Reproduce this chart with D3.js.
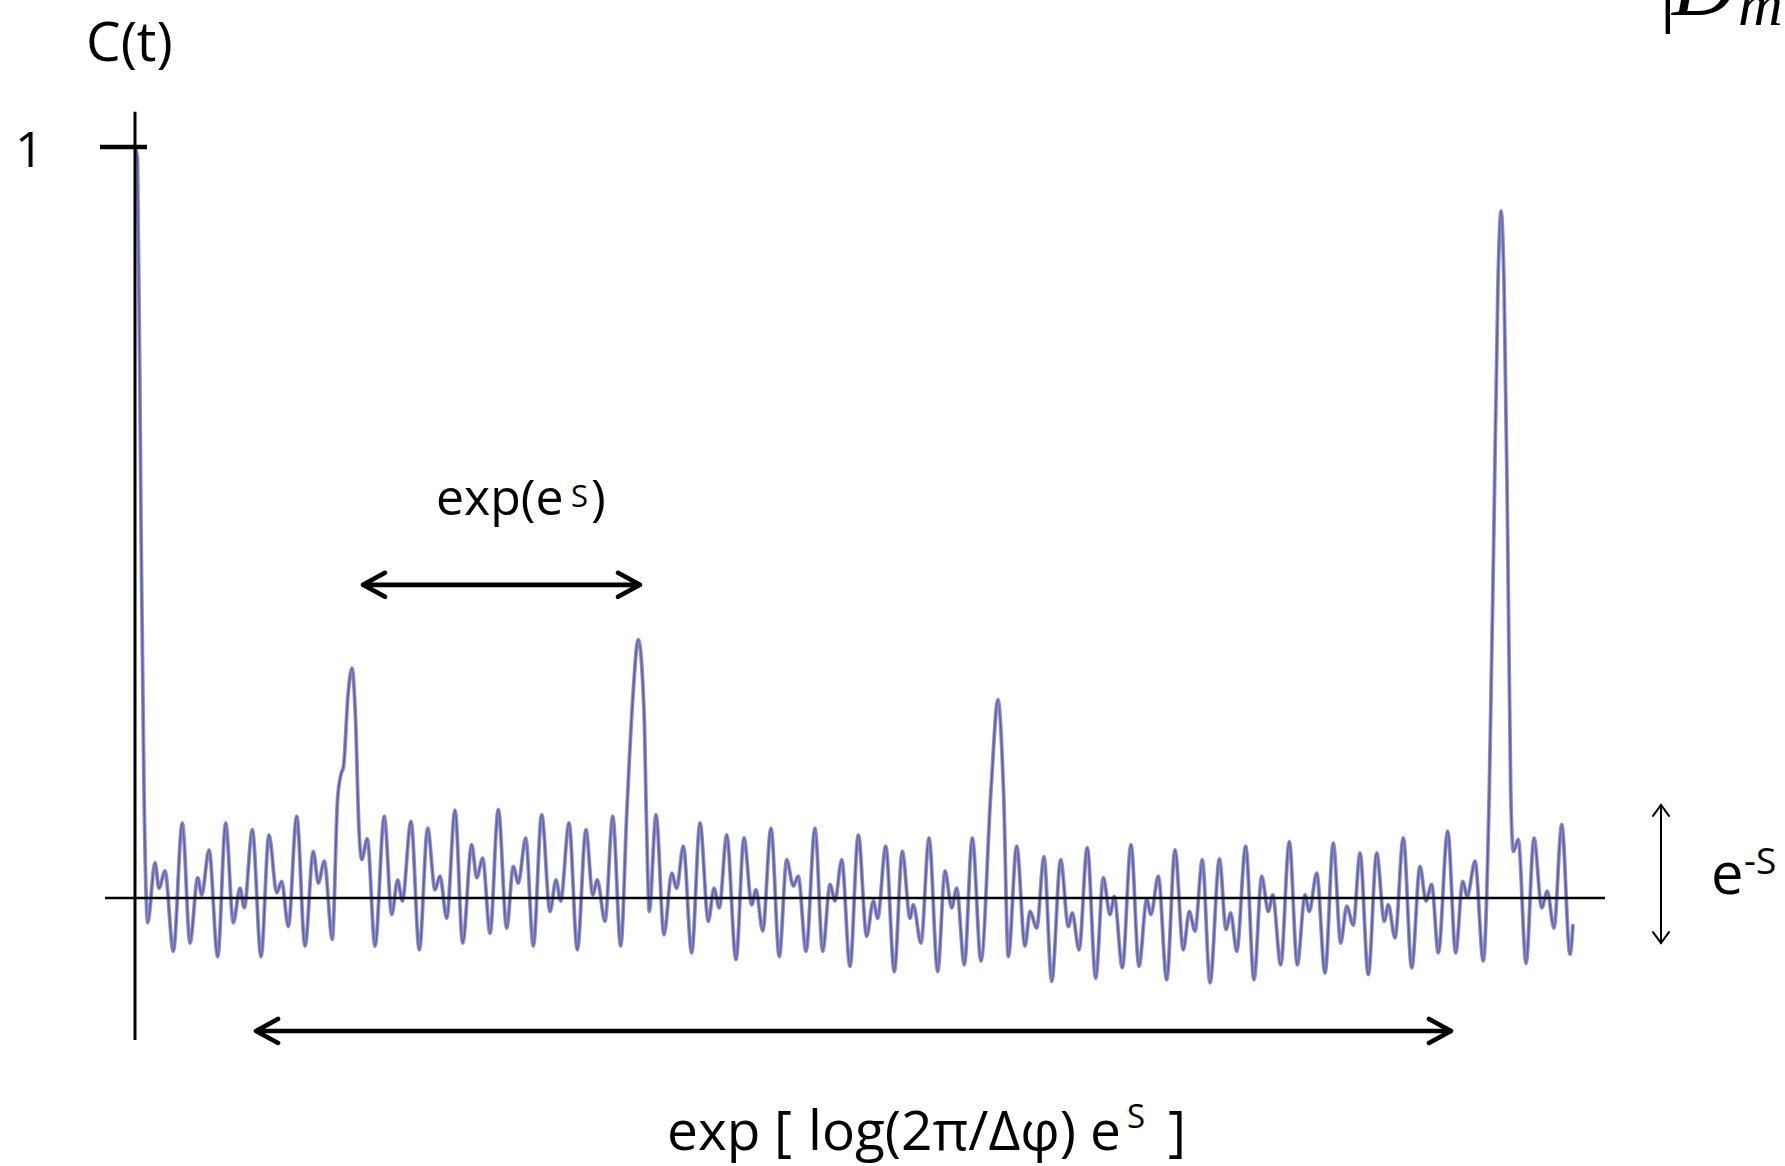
<!DOCTYPE html>
<html>
<head>
<meta charset="utf-8">
<script src="https://cdn.jsdelivr.net/npm/d3@7"></script>
<style>
  html, body { margin: 0; padding: 0; background: #fff; overflow: hidden; }
  svg { display: block; }
</style>
</head>
<body>
<svg id="chart" width="1785" height="1166"></svg>
<script>
// Correlation function C(t): time samples (arbitrary units) and values.
const times = [
  0, 0.25, 0.6, 0.9, 1.27, 2.0, 2.4, 3.0, 3.83, 4.73, 5.5, 6.27, 6.67, 7.4, 8.27, 9.07, 9.83, 10.5, 10.93,
  11.73, 12.6, 13.4, 14.17, 14.67, 15.33, 16.17, 17.0, 17.83, 18.33, 18.93, 19.73,
  20.25, 20.6, 20.85, 21.3, 21.7, 22.05, 22.4, 22.67, 23.23, 24.0, 24.93, 25.67, 26.27, 26.73,
  27.6, 28.43, 29.27, 30.0, 30.5, 31.17, 32.0, 32.77, 33.67, 34.17, 34.77, 35.5,
  36.33, 37.17, 37.83, 38.33, 39.07, 39.83, 40.67, 41.5, 42.1, 42.57, 43.4, 44.23, 45.1, 45.77,
  46.23, 47.0, 47.77, 48.57, 49.2, 49.75, 50.33, 50.9, 51.15, 51.43, 52.1, 52.9, 53.67, 54.17,
  54.83, 55.67, 56.5, 57.33, 57.9, 58.43, 59.17, 60.1, 60.9, 61.67, 62.1, 62.77, 63.6, 64.43,
  65.17, 65.83, 66.33, 67.1, 68.0, 68.77, 69.5, 70.0, 70.67, 71.5, 72.33, 73.17, 73.83, 74.27,
  75.07, 75.93, 76.73, 77.5, 77.83, 78.6, 79.4, 80.27, 81.0, 81.67, 82.17, 82.93, 83.73, 84.6,
  85.6, 86.3, 86.85, 87.33, 88.17, 89.0, 89.5, 90.17, 90.9, 91.67, 92.57, 93.33, 93.73, 94.4,
  95.23, 96.07, 96.83, 97.5, 97.93, 98.73, 99.6, 100.4, 101.17, 101.6, 102.33, 103.17, 104.0,
  104.83, 105.43, 106.0, 106.73, 107.5, 108.45, 109.1, 109.57, 110.17, 111.07, 111.9, 112.67,
  113.33, 113.77, 114.57, 115.43, 116.23, 117.0, 117.43, 118.17, 119.0, 119.83, 120.57, 121.17,
  121.83, 122.5, 123.33, 124.17, 124.93, 125.33, 126.0, 126.83, 127.67, 128.5, 129.1, 129.67,
  130.33, 131.27, 132.07, 132.77, 133.23, 134.0, 134.83, 135.43, 135.9, 136.3, 136.6, 136.9,
  137.25, 137.57, 137.83, 138.33, 139.1, 139.9, 140.67, 141.23, 141.9, 142.67, 143.5, 143.8
];
const corr = [
  1.0, 0.985, 0.5, 0.144, -0.033, 0.047, 0.013, 0.036, -0.071, 0.100, -0.060, 0.027, 0.004, 0.064, -0.078, 0.100, -0.033, 0.013, -0.013,
  0.091, -0.078, 0.084, 0.007, 0.022, -0.038, 0.109, -0.064, 0.062, 0.020, 0.049, -0.055,
  0.13, 0.165, 0.175, 0.27, 0.306, 0.24, 0.09, 0.051, 0.079, -0.064, 0.109, -0.022, 0.024, -0.004,
  0.102, -0.069, 0.093, 0.011, 0.029, -0.027, 0.117, -0.060, 0.071, 0.027, 0.053, -0.047,
  0.118, -0.040, 0.042, 0.020, 0.080, -0.064, 0.111, -0.018, 0.024, -0.004, 0.100, -0.069, 0.091, 0.004,
  0.024, -0.031, 0.109, -0.064, 0.12, 0.26, 0.344, 0.25, 0.10, -0.018, 0.111, -0.049, 0.033, 0.013,
  0.069, -0.073, 0.100, -0.031, 0.013, -0.013, 0.084, -0.082, 0.080, -0.009, 0.011, -0.044, 0.093, -0.078,
  0.051, 0.016, 0.029, -0.071, 0.093, -0.071, 0.018, -0.004, 0.051, -0.091, 0.084, -0.051, -0.004, -0.027,
  0.069, -0.098, 0.062, -0.027, -0.009, -0.060, 0.080, -0.098, 0.036, -0.013, 0.013, -0.089, 0.080, -0.084,
  0.144, 0.264, 0.144, -0.078, 0.069, -0.064, -0.018, -0.040, 0.055, -0.111, 0.051, -0.038, -0.020, -0.069,
  0.067, -0.107, 0.027, -0.022, 0.002, -0.093, 0.071, -0.091, -0.002, -0.022, 0.029, -0.109, 0.064,
  -0.069, -0.018, -0.044, 0.051, -0.113, 0.052, -0.042, -0.020, -0.071, 0.069, -0.109, 0.029,
  -0.018, 0.004, -0.089, 0.075, -0.089, 0.004, -0.018, 0.033, -0.100, 0.073, -0.060, -0.011,
  -0.036, 0.060, -0.102, 0.060, -0.031, -0.009, -0.053, 0.080, -0.093, 0.042, -0.004, 0.018,
  -0.073, 0.089, -0.073, 0.022, 0.002, 0.049, -0.084, 0.144, 0.50, 0.82, 0.915, 0.82,
  0.50, 0.144, 0.062, 0.078, -0.087, 0.080, -0.013, 0.009, -0.040, 0.098, -0.075, -0.035
];

// Axis ticks on C
const yTickValues = [1];
const yTickLabels = ["1"];

// Annotated spans (in t) and the vertical fluctuation range (in C)
const shortSpan = [22.8, 50.5];
const longSpan = [12.1, 131.6];
const noiseRange = [-0.06, 0.124];

const svg = d3.select("#chart");
const x = d3.scaleLinear().domain([0, 144]).range([135, 1575]);
const y = d3.scaleLinear().domain([0, 1]).range([898, 147]);

const defs = svg.append("defs");
defs.append("filter").attr("id", "soft")
  .attr("x", "-5%").attr("y", "-5%").attr("width", "110%").attr("height", "110%")
  .append("feGaussianBlur").attr("stdDeviation", 0.55);

const FONT = "'Open Sans', 'DejaVu Sans', sans-serif";

// ---- curve ----
const line = d3.line()
  .x(i => x(times[i]))
  .y(i => y(corr[i]))
  .curve(d3.curveMonotoneX);

const idx = d3.range(times.length);
svg.append("path")
  .attr("d", line(idx))
  .attr("fill", "none")
  .attr("stroke", "#8f8fcc")
  .attr("stroke-width", 3.8)
  .attr("stroke-linejoin", "round")
  .attr("filter", "url(#soft)");
svg.append("path")
  .attr("d", line(idx))
  .attr("fill", "none")
  .attr("stroke", "#5353a6")
  .attr("stroke-width", 1.5)
  .attr("stroke-linejoin", "round")
  .attr("opacity", 0.85)
  .attr("filter", "url(#soft)");

// ---- axes ----
svg.append("line")
  .attr("x1", x(-3)).attr("x2", x(147))
  .attr("y1", y(0)).attr("y2", y(0))
  .attr("stroke", "#000").attr("stroke-width", 2.6);
svg.append("line")
  .attr("x1", x(0)).attr("x2", x(0))
  .attr("y1", y(1.047)).attr("y2", y(-0.189))
  .attr("stroke", "#000").attr("stroke-width", 3);

yTickValues.forEach((v, k) => {
  svg.append("line")
    .attr("x1", x(-3.5)).attr("x2", x(1.2))
    .attr("y1", y(v)).attr("y2", y(v))
    .attr("stroke", "#000").attr("stroke-width", 4.5);
  svg.append("text")
    .attr("x", 15).attr("y", y(v) + 20)
    .attr("font-family", FONT).attr("font-size", 50)
    .attr("fill", "#000")
    .text(yTickLabels[k]);
});

// axis title
svg.append("text")
  .attr("x", 86).attr("y", 61)
  .attr("font-family", FONT).attr("font-size", 55)
  .attr("fill", "#000")
  .text("C(t)");

// ---- double arrows ----
function hArrow(t0, t1, c, w, head, hh) {
  const x0 = x(t0), x1 = x(t1), yy = y(c);
  const g = svg.append("g").attr("fill", "none").attr("stroke", "#000")
    .attr("stroke-width", w).attr("stroke-linecap", "round").attr("stroke-linejoin", "round");
  g.append("line").attr("x1", x0 + 1).attr("x2", x1 - 1).attr("y1", yy).attr("y2", yy);
  g.append("path").attr("d", `M${x0 + head},${yy - hh} L${x0},${yy} L${x0 + head},${yy + hh}`);
  g.append("path").attr("d", `M${x1 - head},${yy - hh} L${x1},${yy} L${x1 - head},${yy + hh}`);
}
hArrow(shortSpan[0], shortSpan[1], 0.417, 4.6, 22, 12);
hArrow(longSpan[0], longSpan[1], -0.177, 4.6, 22, 12);

// vertical arrow for the fluctuation size
(function () {
  const xx = x(152.6), y0 = y(noiseRange[1]), y1 = y(noiseRange[0]);
  const g = svg.append("g").attr("fill", "none").attr("stroke", "#000")
    .attr("stroke-width", 2).attr("stroke-linecap", "round");
  g.append("line").attr("x1", xx).attr("x2", xx).attr("y1", y0).attr("y2", y1);
  g.append("path").attr("d", `M${xx - 8},${y0 + 11} L${xx},${y0} L${xx + 8},${y0 + 11}`);
  g.append("path").attr("d", `M${xx - 8},${y1 - 11} L${xx},${y1} L${xx + 8},${y1 - 11}`);
})();

// ---- annotations ----
function label(str, px, py, size) {
  return svg.append("text").attr("x", px).attr("y", py)
    .attr("font-family", FONT).attr("font-size", size).attr("fill", "#000").text(str);
}
// exp(e^S)
label("exp(e", 436, 515, 50);
label("S", 571, 507, 31);
label(")", 591, 515, 50);

// exp [ log(2π/Δφ) e^S ]
label("exp", 667, 1150, 55);
label("[", 774, 1150, 55);
label("log(2π/Δφ)", 808, 1150, 55);
label("e", 1090, 1150, 55);
label("S", 1127, 1128, 33);
label("]", 1168, 1150, 55);

// e^-S
label("e", 1711, 894, 58);
label("-S", 1744, 874, 37);

// fragment of a formula at the top-right edge
svg.append("text").attr("x", 1659).attr("y", 15)
  .attr("font-family", "'Liberation Serif', serif").attr("font-size", 88)
  .attr("fill", "#000").text("|");
svg.append("text").attr("x", 1672).attr("y", 15)
  .attr("font-family", "'Liberation Serif', serif").attr("font-style", "italic")
  .attr("font-size", 88).attr("fill", "#000").text("D");
svg.append("text").attr("x", 1738).attr("y", 25)
  .attr("font-family", "'Liberation Serif', serif").attr("font-style", "italic")
  .attr("font-size", 62).attr("fill", "#000").text("m");
</script>
</body>
</html>
